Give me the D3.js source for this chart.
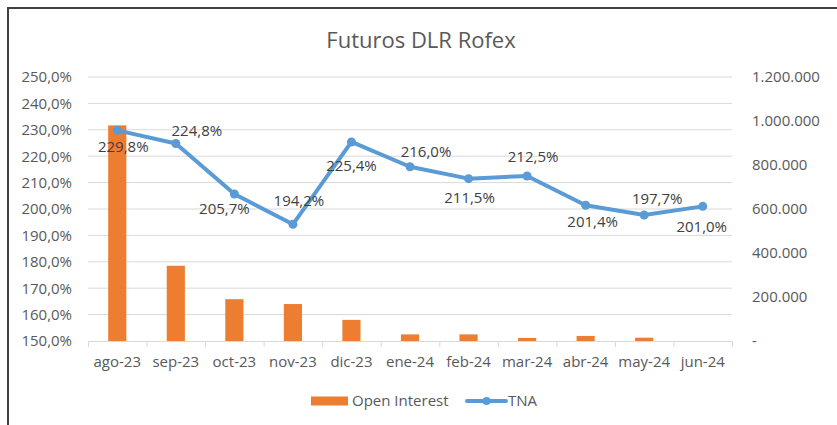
<!DOCTYPE html>
<html>
<head>
<meta charset="utf-8">
<script src="https://cdn.jsdelivr.net/npm/d3@7"></script>
<style>
  body { margin: 0; background: #fff; }
  svg { display: block; font-family: "Open Sans", sans-serif; }
</style>
</head>
<body>
<div id="canvas"></div>
<script>
// datos
const meses = ["ago-23", "sep-23", "oct-23", "nov-23", "dic-23", "ene-24", "feb-24", "mar-24", "abr-24", "may-24", "jun-24"];
const openInterest = [980000, 342000, 190000, 168000, 96000, 30000, 30000, 14000, 23000, 15000, 0];
const tna = [229.8, 224.8, 205.7, 194.2, 225.4, 216.0, 211.5, 212.5, 201.4, 197.7, 201.0];
const ticksTna = [150, 160, 170, 180, 190, 200, 210, 220, 230, 240, 250];
const ticksOI = [0, 200000, 400000, 600000, 800000, 1000000, 1200000];

// desplazamiento de cada etiqueta (como Excel las dejo)
const labelOffset = [[6, 16], [21, -13], [-10, 15], [6, -24], [0, 24], [16, -15], [1, 19], [6, -19], [7, 16], [13, -16], [-1, 20]];

const width = 837, height = 425;
const margin = { top: 77, left: 88, bottom: 84, right: 105 };
const iwidth = width - margin.left - margin.right;
const iheight = height - margin.top - margin.bottom;
const gris = "#595959";

const es = d3.formatLocale({ decimal: ",", thousands: ".", grouping: [3], currency: ["$", ""] });
const fmtPct = d => es.format(".1f")(d) + "%";
const fmtMiles = d => d === 0 ? "-" : es.format(",")(d);

const svg = d3.select("#canvas").append("svg")
  .attr("width", width)
  .attr("height", height);

// borde del area del grafico
svg.append("path")
  .attr("d", `M8,${height} V8 H${width}`)
  .attr("fill", "none")
  .attr("stroke", "#404040")
  .attr("stroke-width", 2);

svg.append("text")
  .attr("x", 421).attr("y", 48)
  .attr("text-anchor", "middle")
  .attr("font-size", 22)
  .attr("fill", gris)
  .text("Futuros DLR Rofex");

const g = svg.append("g").attr("transform", `translate(${margin.left},${margin.top})`);

const x = d3.scaleBand().domain(meses).range([0, iwidth]).padding(0);
const yL = d3.scaleLinear().domain([150, 250]).range([iheight, 0]);
const yR = d3.scaleLinear().domain([0, 1200000]).range([iheight, 0]);

// grilla
g.append("g").selectAll("line").data(ticksTna.slice(1)).enter().append("line")
  .attr("x1", 0).attr("x2", iwidth)
  .attr("y1", d => yL(d)).attr("y2", d => yL(d))
  .attr("stroke", "#d9d9d9").attr("stroke-width", 1);

// ejes
const axL = g.append("g").call(d3.axisLeft(yL).tickValues(ticksTna).tickFormat(fmtPct).tickSize(0).tickPadding(16));
const axR = g.append("g").attr("transform", `translate(${iwidth},0)`)
  .call(d3.axisRight(yR).tickValues(ticksOI).tickFormat(fmtMiles).tickSize(0).tickPadding(20));
const axB = g.append("g").attr("transform", `translate(0,${iheight})`)
  .call(d3.axisBottom(x).tickSize(0).tickPadding(15));
[axL, axR, axB].forEach(a => {
  a.select(".domain").remove();
  a.selectAll("text").attr("fill", gris).attr("font-size", 15).attr("font-family", "Open Sans");
});

// barras
const bw = x.bandwidth() * 0.31;
g.selectAll("rect.bar").data(openInterest).enter().append("rect")
  .attr("class", "bar")
  .attr("x", (d, i) => x(meses[i]) + x.bandwidth() / 2 - bw / 2)
  .attr("y", d => yR(d))
  .attr("width", bw)
  .attr("height", d => iheight - yR(d))
  .attr("fill", "#ed7d31");

// linea base y marcas entre categorias
g.append("line")
  .attr("x1", 0).attr("x2", iwidth)
  .attr("y1", iheight + 0.5).attr("y2", iheight + 0.5)
  .attr("stroke", "#d9d9d9");
g.append("g").selectAll("line").data(meses.concat(["fin"])).enter().append("line")
  .attr("x1", (d, i) => i * x.step() + 0.5).attr("x2", (d, i) => i * x.step() + 0.5)
  .attr("y1", iheight).attr("y2", iheight + 6)
  .attr("stroke", "#d9d9d9");

// linea TNA
const cx = (d, i) => x(meses[i]) + x.bandwidth() / 2;
const linea = d3.line().x(cx).y(d => yL(d));
g.append("path")
  .datum(tna)
  .attr("d", linea)
  .attr("fill", "none")
  .attr("stroke", "#5b9bd5")
  .attr("stroke-width", 4)
  .attr("stroke-linejoin", "round")
  .attr("stroke-linecap", "round");

g.selectAll("circle.pt").data(tna).enter().append("circle")
  .attr("class", "pt")
  .attr("cx", cx)
  .attr("cy", d => yL(d))
  .attr("r", 4.5)
  .attr("fill", "#5b9bd5");

g.selectAll("text.lbl").data(tna).enter().append("text")
  .attr("class", "lbl")
  .attr("x", (d, i) => cx(d, i) + labelOffset[i][0])
  .attr("y", (d, i) => yL(d) + labelOffset[i][1])
  .attr("dy", "0.35em")
  .attr("text-anchor", "middle")
  .attr("font-size", 15)
  .attr("fill", "#404040")
  .text(fmtPct);

// leyenda
const ley = svg.append("g").attr("transform", "translate(0,401)");
ley.append("rect").attr("x", 311).attr("y", -4.5).attr("width", 37).attr("height", 9).attr("fill", "#ed7d31");
ley.append("text").attr("x", 352).attr("dy", "0.35em").attr("font-size", 15).attr("fill", gris).text("Open Interest");
ley.append("line").attr("x1", 467).attr("x2", 506).attr("y1", 0).attr("y2", 0)
  .attr("stroke", "#5b9bd5").attr("stroke-width", 4).attr("stroke-linecap", "round");
ley.append("circle").attr("cx", 486.5).attr("cy", 0).attr("r", 4).attr("fill", "#5b9bd5");
ley.append("text").attr("x", 508).attr("dy", "0.35em").attr("font-size", 15).attr("fill", gris).text("TNA");
</script>
</body>
</html>
